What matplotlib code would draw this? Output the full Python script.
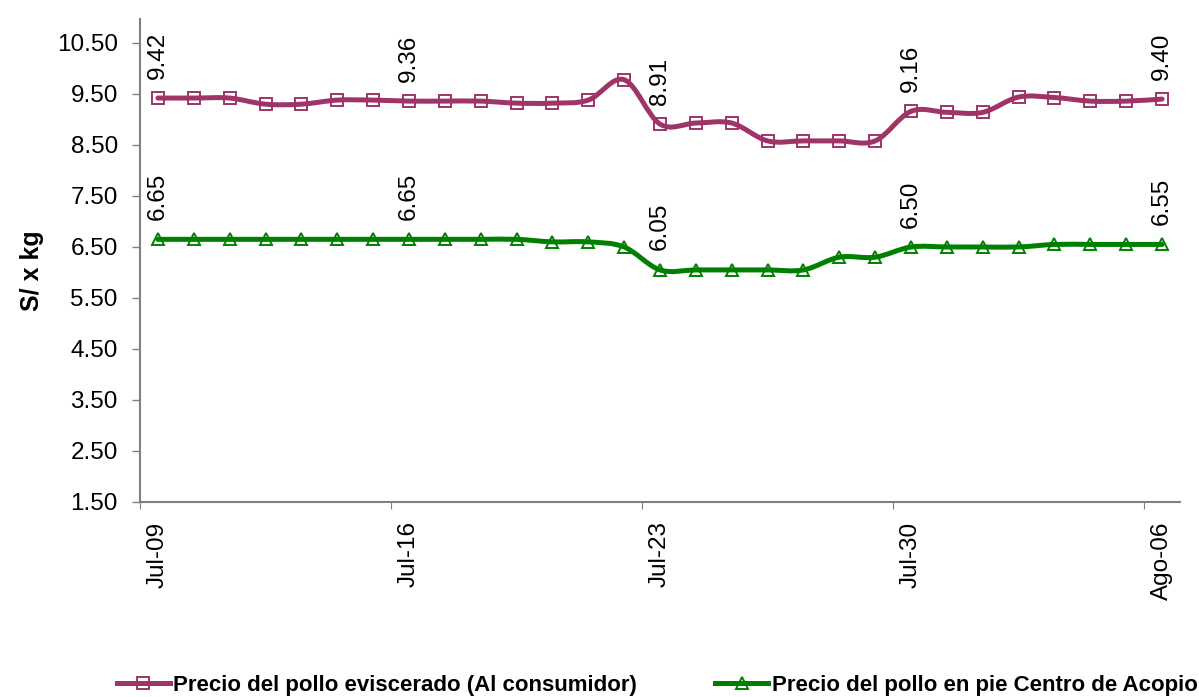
import matplotlib
matplotlib.use('Agg')
import matplotlib.pyplot as plt
from matplotlib.path import Path
from matplotlib.patches import PathPatch
from matplotlib.lines import Line2D

plt.rcParams['font.family'] = ['Liberation Sans', 'DejaVu Sans']

# daily prices, Jul-09 .. Ago-06
days = list(range(29))
tick_labels = ['Jul-09', 'Jul-16', 'Jul-23', 'Jul-30', 'Ago-06']
tick_days = [0, 7, 14, 21, 28]

eviscerado = [9.42, 9.42, 9.42, 9.30, 9.30, 9.38, 9.38, 9.36, 9.36, 9.36,
              9.32, 9.32, 9.38, 9.78, 8.91, 8.93, 8.93, 8.58, 8.58, 8.58,
              8.58, 9.16, 9.14, 9.14, 9.44, 9.43, 9.36, 9.36, 9.40]
en_pie = [6.65, 6.65, 6.65, 6.65, 6.65, 6.65, 6.65, 6.65, 6.65, 6.65,
          6.65, 6.60, 6.60, 6.50, 6.05, 6.05, 6.05, 6.05, 6.05, 6.30,
          6.30, 6.50, 6.50, 6.50, 6.50, 6.55, 6.55, 6.55, 6.55]

label_days = [0, 7, 14, 21, 28]

c_ev = '#9E3468'
c_pie = '#008000'


def smooth_path(xs, ys):
    # excel-like smoothed line: cubic bezier through every point
    n = len(xs)
    verts = [(xs[0], ys[0])]
    codes = [Path.MOVETO]
    for i in range(n - 1):
        p0 = max(i - 1, 0)
        p3 = min(i + 2, n - 1)
        c1 = (xs[i] + (xs[i + 1] - xs[p0]) / 6.0, ys[i] + (ys[i + 1] - ys[p0]) / 6.0)
        c2 = (xs[i + 1] - (xs[p3] - xs[i]) / 6.0, ys[i + 1] - (ys[p3] - ys[i]) / 6.0)
        verts += [c1, c2, (xs[i + 1], ys[i + 1])]
        codes += [Path.CURVE4] * 3
    return Path(verts, codes)


fig = plt.figure(figsize=(11.99, 6.97), dpi=100)
ax = fig.add_axes([140 / 1199, 1 - 502 / 697, 1040 / 1199, 483 / 697])

for vals, col, mk in [(eviscerado, c_ev, 's'), (en_pie, c_pie, '^')]:
    ax.add_patch(PathPatch(smooth_path(days, vals), fill=False, edgecolor=col,
                           lw=3.6, capstyle='round', joinstyle='round', zorder=2))
    ax.plot(days, vals, linestyle='none', marker=mk, ms=8.5, mfc='none',
            mec=col, mew=1.4, zorder=3)
    for d in label_days:
        ax.annotate('%.2f' % vals[d], (days[d], vals[d]), xytext=(0, 14),
                    textcoords='offset points', rotation=90, ha='center',
                    va='bottom', fontsize=17.5)

ax.set_xlim(-0.5, 28.5)
ax.set_ylim(1.5, 10.97)
ax.set_yticks([1.5, 2.5, 3.5, 4.5, 5.5, 6.5, 7.5, 8.5, 9.5, 10.5])
ax.set_yticklabels(['%.2f' % v for v in ax.get_yticks()])
ax.tick_params(axis='y', labelsize=17.5, length=6, width=1, color='#808080', pad=10)

# ticks between categories, labels on the categories
ax.set_xticks([d - 0.5 for d in tick_days])
ax.set_xticklabels([])
ax.set_xticks(tick_days, minor=True)
ax.set_xticklabels(tick_labels, minor=True, rotation=90, fontsize=17.5)
ax.tick_params(axis='x', which='major', length=5, color='#808080')
ax.tick_params(axis='x', which='minor', length=0, pad=14)

for s in ['top', 'right']:
    ax.spines[s].set_visible(False)
for s in ['left', 'bottom']:
    ax.spines[s].set_color('#808080')
    ax.spines[s].set_linewidth(1.5)

fig.text(32 / 1199, 1 - 271 / 697, 'S/ x kg', rotation=90, fontsize=18,
         fontweight='bold', ha='center', va='center')

handles = [Line2D([], [], color=c_ev, lw=3.6, marker='s', ms=8.5, mfc='none', mec=c_ev, mew=1.4),
           Line2D([], [], color=c_pie, lw=3.6, marker='^', ms=8.5, mfc='none', mec=c_pie, mew=1.4)]
fig.legend(handles, ['Precio del pollo eviscerado (Al consumidor)',
                     'Precio del pollo en pie Centro de Acopio'],
           loc='center', bbox_to_anchor=(657 / 1199, 1 - 685 / 697), ncol=2,
           frameon=False, prop={'size': 16, 'weight': 'bold'}, handlelength=2.4,
           handletextpad=0.15, columnspacing=3.5, borderpad=0, borderaxespad=0)

fig.savefig('out.png', dpi=100)
